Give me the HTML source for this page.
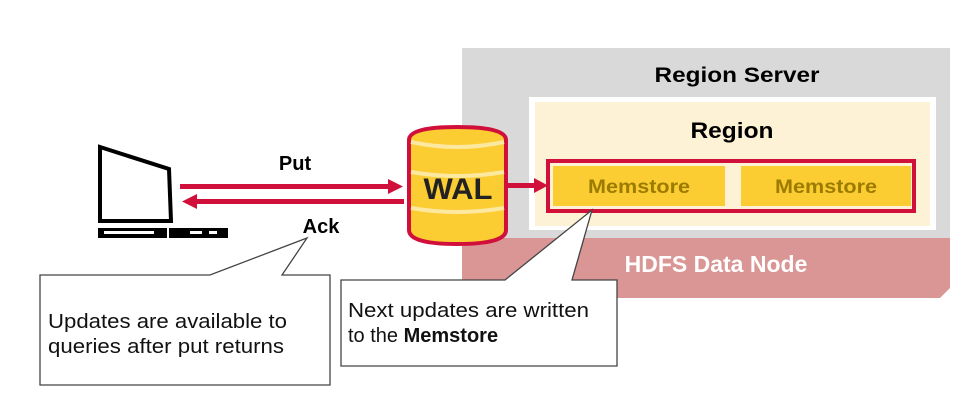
<!DOCTYPE html>
<html><head><meta charset="utf-8"><style>
html,body{margin:0;padding:0;background:#fff;}
svg{display:block;font-family:"Liberation Sans",Arial,sans-serif;}
</style></head><body>
<svg width="975" height="418" viewBox="0 0 975 418" xmlns="http://www.w3.org/2000/svg">
<rect x="462" y="48" width="488" height="192" fill="#d9d9d9"/>
<path d="M462 238 H950 V288 L940 298 H462 Z" fill="#d99694"/>
<text x="716" y="272" font-size="23" font-weight="bold" fill="#fff" text-anchor="middle">HDFS Data Node</text>
<text x="737" y="82" font-size="21" font-weight="bold" fill="#000" text-anchor="middle" textLength="165" lengthAdjust="spacingAndGlyphs">Region Server</text>
<rect x="529" y="97" width="407" height="133" fill="#fff"/>
<rect x="535" y="102" width="395" height="124" fill="#fdf2d5"/>
<text x="732" y="138" font-size="22" font-weight="bold" fill="#000" text-anchor="middle" textLength="83" lengthAdjust="spacingAndGlyphs">Region</text>
<rect x="548" y="161" width="366" height="50" fill="#fdf2d5" stroke="#d0103a" stroke-width="4"/>
<rect x="553" y="166" width="172" height="40" fill="#fccc33"/>
<rect x="741" y="166" width="170" height="40" fill="#fccc33"/>
<text x="639" y="193" font-size="19" font-weight="bold" fill="#9c7c00" text-anchor="middle" textLength="102" lengthAdjust="spacingAndGlyphs">Memstore</text>
<text x="826" y="193" font-size="19" font-weight="bold" fill="#9c7c00" text-anchor="middle" textLength="102" lengthAdjust="spacingAndGlyphs">Memstore</text>
<path d="M409 140 Q409 127 457 127 Q506 127 506 140 V230 Q506 244 457 244 Q409 244 409 230 Z" fill="#fccc33" stroke="#d0103a" stroke-width="4"/>
<path d="M411 142 Q457 152 504 142" fill="none" stroke="#fde8a0" stroke-width="4"/>
<path d="M411 172 Q457 180 504 172" fill="none" stroke="#fde8a0" stroke-width="4"/>
<path d="M411 208 Q457 216 504 208" fill="none" stroke="#fde8a0" stroke-width="4"/>
<text x="458" y="199" font-size="30" font-weight="bold" fill="#222" text-anchor="middle" textLength="69" lengthAdjust="spacingAndGlyphs">WAL</text>
<rect x="180" y="184" width="210" height="5" fill="#d0103a"/>
<polygon points="388,179 403,186.5 388,194" fill="#d0103a"/>
<rect x="196" y="199" width="208" height="5" fill="#d0103a"/>
<polygon points="197,194 182,201.5 197,209" fill="#d0103a"/>
<rect x="506" y="183" width="30" height="5" fill="#d0103a"/>
<polygon points="534,178 548,185.5 534,193" fill="#d0103a"/>
<text x="295" y="170" font-size="20" font-weight="bold" fill="#000" text-anchor="middle">Put</text>
<text x="321" y="233" font-size="20" font-weight="bold" fill="#000" text-anchor="middle">Ack</text>
<polygon points="100,147 169,169 171,221 100,221" fill="#fff" stroke="#000" stroke-width="4"/>
<rect x="98" y="228" width="130" height="10" fill="#000"/>
<rect x="104" y="231" width="50" height="3" fill="#fff"/>
<rect x="167" y="228" width="2" height="10" fill="#fff"/>
<rect x="190" y="231" width="12" height="3" fill="#fff"/>
<rect x="209" y="231" width="8" height="3" fill="#fff"/>
<path d="M40 275 H210 L307 238 L282 275 H330 V385 H40 Z" fill="#fff" stroke="#444" stroke-width="1.3"/>
<text x="48" y="328" font-size="20" fill="#111" textLength="239" lengthAdjust="spacingAndGlyphs">Updates are available to</text>
<text x="48" y="353" font-size="20" fill="#111" textLength="236" lengthAdjust="spacingAndGlyphs">queries after put returns</text>
<path d="M341 280 H505 L592 210 L572 280 H617 V366 H341 Z" fill="#fff" stroke="#444" stroke-width="1.3"/>
<text x="348" y="317" font-size="20" fill="#111" textLength="241" lengthAdjust="spacingAndGlyphs">Next updates are written</text>
<text x="348" y="342" font-size="20" fill="#111">to the <tspan font-weight="bold">Memstore</tspan></text>
</svg>
</body></html>
